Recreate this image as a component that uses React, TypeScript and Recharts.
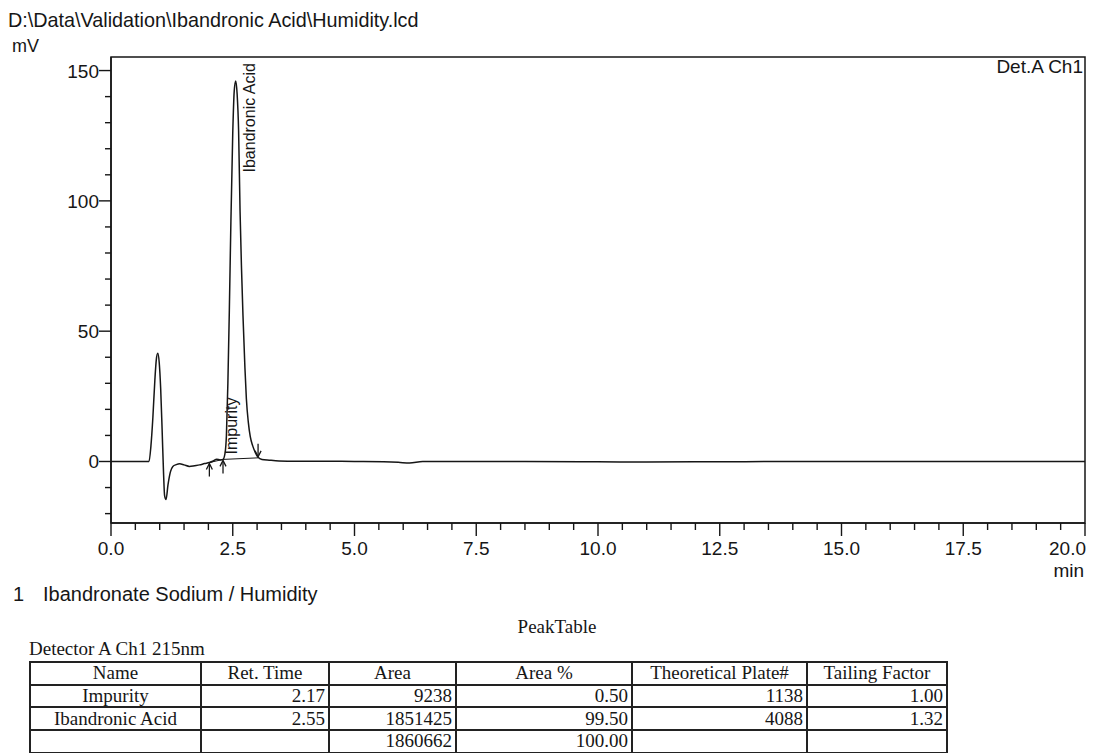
import React from 'react';
import { ComposedChart, Line, Scatter, XAxis, YAxis, ReferenceArea } from 'recharts';

// detector trace: [minutes, mV]
const trace: [number, number][] = [
  [0, 0], [0.5, 0], [0.78, 0], [0.82, 6], [0.86, 17], [0.9, 31], [0.93, 39], [0.96, 41.5],
  [0.99, 38], [1.02, 28], [1.05, 12], [1.08, -5], [1.1, -13], [1.13, -14.6], [1.17, -9],
  [1.22, -4], [1.27, -1.9], [1.34, -1.2], [1.41, -0.9], [1.5, -1.3], [1.61, -1.9], [1.72, -1.6],
  [1.82, -1.3], [1.92, -0.8], [2.02, -0.4], [2.1, 0.2], [2.17, 0.9], [2.24, 0.6], [2.3, 0.8],
  [2.34, 3], [2.37, 10], [2.4, 30], [2.43, 58], [2.46, 90], [2.5, 126], [2.53, 142], [2.56, 146],
  [2.59, 141], [2.62, 127], [2.65, 96], [2.68, 74], [2.71, 56], [2.75, 36], [2.78, 24], [2.82, 15],
  [2.86, 9.5], [2.91, 6], [2.96, 3.6], [3.02, 1.6], [3.1, 0.8], [3.25, 0.5], [3.45, 0.2],
  [3.8, 0.1], [4.3, 0.1], [5.0, 0], [5.6, -0.1], [5.9, -0.3], [6.13, -0.6], [6.4, 0], [7.0, 0],
  [8.5, 0], [10.0, -0.1], [11.0, -0.2], [12.5, -0.1], [14.0, 0], [16.0, 0], [18.0, 0], [20.0, 0],
];

// integration baseline drawn under the peaks
const baseline: [number, number][] = [[2.02, -0.4], [2.3, 0.8], [3.02, 1.4]];

// peak start / end marks
const marks = [
  { t: 2.02, mV: -0.4, dir: 'up' },
  { t: 2.3, mV: 0.8, dir: 'up' },
  { t: 3.02, mV: 1.4, dir: 'down' },
];

const peakNames = ['Impurity', 'Ibandronic Acid'];
const retTimes = [2.17, 2.55];
const areas = [9238, 1851425];
const areaPct = ['0.50', '99.50'];
const plates = [1138, 4088];
const tailing = ['1.00', '1.32'];
const totalArea = 1860662;
const totalPct = '100.00';

const xMajor = [0, 2.5, 5, 7.5, 10, 12.5, 15, 17.5, 20];
const xTicks = [
  0, 0.5, 1, 1.5, 2, 2.5, 3, 3.5, 4, 4.5, 5, 5.5, 6, 6.5, 7, 7.5, 8, 8.5, 9, 9.5, 10,
  10.5, 11, 11.5, 12, 12.5, 13, 13.5, 14, 14.5, 15, 15.5, 16, 16.5, 17, 17.5, 18, 18.5, 19, 19.5, 20,
];
const yMajor = [0, 50, 100, 150];
const yTicks = [-20, -10, 0, 10, 20, 30, 40, 50, 60, 70, 80, 90, 100, 110, 120, 130, 140, 150];

const Y_MIN = -23.6;
const Y_MAX = 155.2;

const SANS = '"Liberation Sans", Arial, sans-serif';
const SERIF = '"Liberation Serif", "Times New Roman", serif';
const INK = '#161616';

const traceData = trace.map(([t, mV]) => ({ t, mV }));
const baseData = baseline.map(([t, mV]) => ({ t, mV }));
const labelData = peakNames.map((name, i) => ({ t: retTimes[i], mV: 0, name }));

// how far above the baseline each peak name starts (px)
const labelLift: Record<string, number> = { Impurity: 7, 'Ibandronic Acid': 289 };

const XTick = (props: any) => {
  const { x, y, payload } = props;
  const v = payload.value;
  const major = xMajor.includes(v);
  const last = v === 20;
  return (
    <g>
      <line x1={x} x2={x} y1={y} y2={y + (major ? 13 : 7)} stroke={INK} strokeWidth={1.4} />
      {major && (
        <text
          x={last ? x + 1 : x}
          y={y + 32}
          textAnchor={last ? 'end' : 'middle'}
          fontFamily={SANS}
          fontSize={19}
          fill={INK}
        >
          {v.toFixed(1)}
        </text>
      )}
    </g>
  );
};

const YTick = (props: any) => {
  const { x, y, payload } = props;
  const v = payload.value;
  const major = yMajor.includes(v);
  return (
    <g>
      <line x1={x - (major ? 12 : 6)} x2={x} y1={y} y2={y} stroke={INK} strokeWidth={1.4} />
      {major && (
        <text x={x - 12} y={y + 7} textAnchor="end" fontFamily={SANS} fontSize={19} fill={INK}>
          {v}
        </text>
      )}
    </g>
  );
};

const Arrow = (props: any) => {
  const { cx, cy, payload } = props;
  const s = payload.dir === 'up' ? 1 : -1;
  return (
    <g stroke={INK} strokeWidth={1.3} fill="none">
      <line x1={cx} x2={cx} y1={cy + s * 14} y2={cy + s * 1} />
      <polyline points={`${cx - 3},${cy + s * 7} ${cx},${cy + s * 1} ${cx + 3},${cy + s * 7}`} />
    </g>
  );
};

const PeakLabel = (props: any) => {
  const { cx, cy, payload } = props;
  const x = cx + 14.5;
  const y = cy - labelLift[payload.name];
  return (
    <text
      x={x}
      y={y}
      transform={`rotate(-90 ${x} ${y})`}
      dominantBaseline="central"
      fontFamily={SANS}
      fontSize={16}
      fill={INK}
    >
      {payload.name}
    </text>
  );
};

const cell: React.CSSProperties = {
  border: '2px solid #222',
  padding: '0 3px',
  height: 20.7,
  lineHeight: '18px',
  whiteSpace: 'nowrap',
  overflow: 'hidden',
  verticalAlign: 'middle',
};
const head: React.CSSProperties = { ...cell, textAlign: 'center' };
const num: React.CSSProperties = { ...cell, textAlign: 'right' };

export default function App() {
  return (
    <div style={{ position: 'absolute', left: 0, top: 0, width: 1093, height: 753, background: '#fff' }}>
      <div style={{ position: 'absolute', left: 0, top: 0 }}>
        <ComposedChart width={1093} height={600} margin={{ top: 57, right: 8, bottom: 37, left: 31 }}>
          <XAxis
            dataKey="t"
            type="number"
            domain={[0, 20]}
            ticks={xTicks}
            interval={0}
            allowDataOverflow
            tickSize={0}
            tickMargin={0}
            height={40}
            tick={<XTick />}
            axisLine={{ stroke: INK, strokeWidth: 1.5 }}
            tickLine={false}
          />
          <YAxis
            type="number"
            domain={[Y_MIN, Y_MAX]}
            ticks={yTicks}
            interval={0}
            allowDataOverflow
            tickSize={0}
            tickMargin={0}
            width={80}
            tick={<YTick />}
            axisLine={{ stroke: INK, strokeWidth: 1.5 }}
            tickLine={false}
          />
          <ReferenceArea
            x1={0}
            x2={20}
            y1={Y_MIN}
            y2={Y_MAX}
            fill="none"
            stroke={INK}
            strokeWidth={1.5}
            ifOverflow="visible"
          />
          <Line
            data={baseData}
            dataKey="mV"
            type="linear"
            stroke={INK}
            strokeWidth={1}
            dot={false}
            isAnimationActive={false}
          />
          <Line
            data={traceData}
            dataKey="mV"
            type="monotone"
            stroke={INK}
            strokeWidth={1.5}
            dot={false}
            isAnimationActive={false}
          />
          <Scatter data={marks} dataKey="mV" shape={<Arrow />} isAnimationActive={false} />
          <Scatter data={labelData} dataKey="mV" shape={<PeakLabel />} isAnimationActive={false} />
        </ComposedChart>
      </div>

      <svg
        width={1093}
        height={753}
        style={{ position: 'absolute', left: 0, top: 0, pointerEvents: 'none' }}
      >
        <g fill={INK} fontFamily={SANS}>
          <text x={8} y={27} fontSize={19.8}>D:\Data\Validation\Ibandronic Acid\Humidity.lcd</text>
          <text x={12} y={52} fontSize={18}>mV</text>
          <text x={1083} y={73} fontSize={19} textAnchor="end">Det.A Ch1</text>
          <text x={1084} y={577} fontSize={19} textAnchor="end">min</text>
          <text x={13} y={601} fontSize={20}>1</text>
          <text x={43} y={601} fontSize={20}>Ibandronate Sodium / Humidity</text>
        </g>
        <g fill={INK} fontFamily={SERIF}>
          <text x={557} y={633} fontSize={19} textAnchor="middle">PeakTable</text>
          <text x={29} y={655} fontSize={19}>Detector A Ch1 215nm</text>
        </g>
      </svg>

      <table
        style={{
          position: 'absolute',
          left: 29,
          top: 661,
          width: 917,
          borderCollapse: 'collapse',
          tableLayout: 'fixed',
          fontFamily: SERIF,
          fontSize: 19,
          color: INK,
        }}
      >
        <colgroup>
          <col style={{ width: 171 }} />
          <col style={{ width: 128 }} />
          <col style={{ width: 127 }} />
          <col style={{ width: 176 }} />
          <col style={{ width: 175 }} />
          <col style={{ width: 140 }} />
        </colgroup>
        <tbody>
          <tr>
            <td style={head}>Name</td>
            <td style={head}>Ret. Time</td>
            <td style={head}>Area</td>
            <td style={head}>Area %</td>
            <td style={head}>Theoretical Plate#</td>
            <td style={head}>Tailing Factor</td>
          </tr>
          {peakNames.map((name, i) => (
            <tr key={name}>
              <td style={head}>{name}</td>
              <td style={num}>{retTimes[i].toFixed(2)}</td>
              <td style={num}>{areas[i]}</td>
              <td style={num}>{areaPct[i]}</td>
              <td style={num}>{plates[i]}</td>
              <td style={num}>{tailing[i]}</td>
            </tr>
          ))}
          <tr>
            <td style={cell}></td>
            <td style={cell}></td>
            <td style={num}>{totalArea}</td>
            <td style={num}>{totalPct}</td>
            <td style={cell}></td>
            <td style={cell}></td>
          </tr>
        </tbody>
      </table>
    </div>
  );
}
